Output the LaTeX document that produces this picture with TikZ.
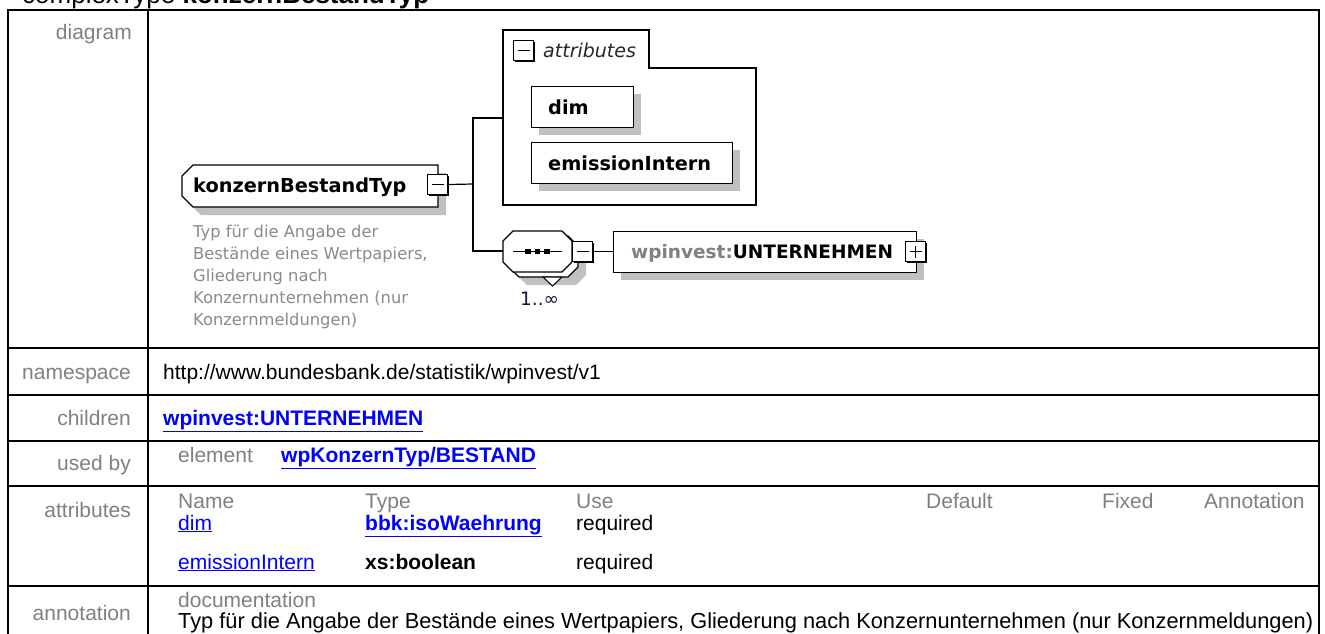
\documentclass[tikz,border=0pt]{standalone}
\usepackage{fontspec}
\setmainfont{Liberation Sans}
\newfontfamily\diafont{DejaVu Sans}
\usetikzlibrary{calc}
\definecolor{lblgray}{RGB}{128,128,128}
\definecolor{descgray}{RGB}{138,138,138}
\definecolor{shadowgray}{RGB}{192,192,192}
\definecolor{linkblue}{RGB}{0,0,255}
\definecolor{occcol}{RGB}{20,20,60}
\newcommand\tabfont{\fontsize{21}{25}\selectfont}
\newcommand\ctrlbtn[4]{%
  \fill[black] (#1+2,#2+2) rectangle (#1+22,#2+22);
  \node[draw, fill=white, line width=1pt, inner sep=0pt, minimum width=20pt, minimum height=20pt, anchor=north west] (#3) at (#1,#2) {};
  \draw[line width=1.3pt] ($(#3.center)+(-6,0)$) -- ($(#3.center)+(6,0)$);
  \ifx#4p\draw[line width=1.3pt] ($(#3.center)+(0,-6)$) -- ($(#3.center)+(0,6)$);\fi
}
\begin{document}
\begin{tikzpicture}[x=1pt,y=-1pt,
  tline/.style={line width=2pt},
  lbl/.style={font=\tabfont, text=lblgray, inner sep=0pt, anchor=base east},
  val/.style={font=\tabfont, inner sep=0pt, anchor=base west},
  hdr/.style={val, text=lblgray},
  lnk/.style={val, text=linkblue},
  dline/.style={line width=1.2pt},
  dbox/.style={draw, fill=white, line width=1.2pt, inner sep=0pt, anchor=north west},
  shadowfill/.style={fill=shadowgray, draw=none},
  dlabel/.style={font=\diafont\fontsize{19.3}{23}\selectfont\bfseries, inner sep=0pt, anchor=base west},
]
\useasboundingbox (0,0) rectangle (1325,633);
\clip (0,0) rectangle (1325,633);

% title (only its lower part is visible)
\node[val, font=\fontsize{26}{30}\selectfont] (title) at (22,3) {complexType \textbf{konzernBestandTyp}};

% table
\draw[tline] (8,10) rectangle (1319,650);
\draw[tline] (148,10) -- (148,650);
\foreach \yy in {348,395,441,486,586} \draw[tline] (8,\yy) -- (1319,\yy);

% row labels
\node[lbl] (Ldiagram) at (132,39) {diagram};
\node[lbl] (Lns) at (131,379) {namespace};
\node[lbl] (Lch) at (131,425) {children};
\node[lbl] (Lub) at (131,470) {used by};
\node[lbl] (Lat) at (131,517) {attributes};
\node[lbl] (Lan) at (131,620) {annotation};

% values
\node[val] (ns) at (163,379) {http://www.bundesbank.de/statistik/wpinvest/v1};
\node[lnk, font=\tabfont\bfseries] (ch) at (163,425) {\underline{wpinvest:UNTERNEHMEN}};
\node[hdr] (ubel) at (178,462) {element};
\node[lnk, font=\tabfont\bfseries] (ubv) at (281,462) {\underline{wpKonzernTyp/BESTAND}};

\node[hdr] (hName) at (178,508) {Name};
\node[hdr] (hType) at (365,508) {Type};
\node[hdr] (hUse) at (576,508) {Use};
\node[hdr] (hDef) at (926,508) {Default};
\node[hdr] (hFix) at (1102,508) {Fixed};
\node[hdr] (hAnn) at (1204,508) {Annotation};

\node[lnk] (a1n) at (178,530) {\underline{dim}};
\node[lnk, font=\tabfont\bfseries] (a1t) at (365,530) {\underline{bbk:isoWaehrung}};
\node[val] (a1u) at (576,530) {required};
\node[lnk] (a2n) at (178,569) {\underline{emissionIntern}};
\node[val, font=\tabfont\bfseries] (a2t) at (365,569) {xs:boolean};
\node[val] (a2u) at (576,569) {required};

\node[hdr] (doc) at (178,607) {documentation};
\node[val, font=\fontsize{21.8}{25}\selectfont] (doctext) at (178,628) {Typ für die Angabe der Bestände eines Wertpapiers, Gliederung nach Konzernunternehmen (nur Konzernmeldungen)};

% ---------- diagram ----------
% root element
\fill[shadowgray] (201,173) -- (446,173) -- (446,215) -- (201,215) -- (190,204) -- (190,184) -- cycle;
\draw[dline, fill=white] (193,165) -- (438,165) -- (438,207) -- (193,207) -- (182,196) -- (182,176) -- cycle;
\node[dlabel] (roottxt) at (193,192) {konzernBestandTyp};
\ctrlbtn{427}{174}{rootbtn}{m}
\node[font=\diafont\fontsize{16.3}{22}\selectfont, text=descgray, align=left, inner sep=0pt, anchor=north west] (desc) at (193,225)
  {Typ für die Angabe der\\Bestände eines Wertpapiers,\\Gliederung nach\\Konzernunternehmen (nur\\Konzernmeldungen)};

% attributes group
\draw[dline, fill=white] (503,30) -- (649,30) -- (649,68) -- (756,68) -- (756,205) -- (503,205) -- cycle;
\coordinate (attrin) at (503,118);
\ctrlbtn{513}{40}{attrbtn}{m}
\node[font=\diafont\fontsize{19}{23}\selectfont\itshape, text=black!85, inner sep=0pt, anchor=base west] (attrtxt) at (543,57) {attributes};

\fill[shadowgray] (539,94) rectangle (641,135);
\node[dbox, minimum width=102pt, minimum height=41pt] (dimbox) at (531,86) {};
\node[dlabel] (dimtxt) at (548,114) {dim};

\fill[shadowgray] (539,150) rectangle (740,191);
\node[dbox, minimum width=201pt, minimum height=41pt] (embox) at (531,142) {};
\node[dlabel] (emtxt) at (548,170) {emissionIntern};

% sequence compositor (1..unbounded)
\fill[shadowgray] (527,244) -- (576,244) -- (586,254) -- (586,275) -- (576,285) -- (527,285) -- (517,275) -- (517,254) -- cycle;
\draw[dline, fill=white] (519,236) -- (568,236) -- (578,246) -- (578,267) -- (568,277) -- (519,277) -- (509,267) -- (509,246) -- cycle;
\draw[line width=1pt, fill=white] (543,277) -- (562,277) -- (552.5,286) -- cycle;
\draw[dline, fill=white] (513,231) -- (562,231) -- (572,241) -- (572,262) -- (562,272) -- (513,272) -- (503,262) -- (503,241) -- cycle;
\coordinate (seqin) at (503,251);
\draw[line width=1.2pt] (513,251.5) -- (562,251.5);
\foreach \xx in {528,537.5,547} \fill (\xx-2.7,248.8) rectangle (\xx+2.7,254.2);
\ctrlbtn{572}{241}{seqbtn}{m}
\node[font=\diafont\fontsize{18.5}{22}\selectfont, text=occcol, inner sep=0pt, anchor=base west] (occ) at (520,305) {1..∞};

% child element
\fill[shadowgray] (621,239) rectangle (924,280);
\node[dbox, minimum width=303pt, minimum height=41pt] (unt) at (613,231) {};
\node[font=\diafont\fontsize{18.5}{22}\selectfont\bfseries, inner sep=0pt, anchor=base west] (unttxt) at (631,258) {\textcolor{lblgray}{wpinvest:}UNTERNEHMEN};
\ctrlbtn{905}{241}{untbtn}{p}

% connectors
\coordinate (fork) at (473,184);
\draw[dline] (rootbtn.east) -- (fork);
\draw[dline] (attrin) -| (fork);
\draw[dline] (seqin) -| (fork);
\draw[dline] (seqbtn.east) -- (unt.west |- seqbtn.east);
\end{tikzpicture}
\end{document}
